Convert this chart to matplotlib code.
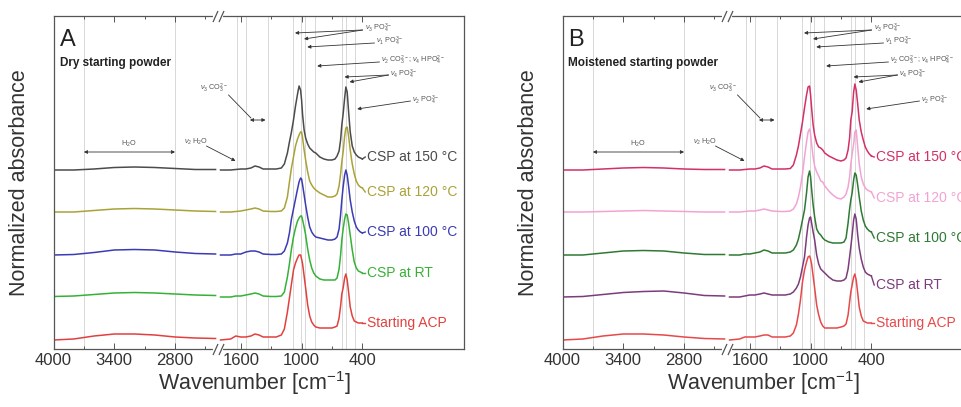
import matplotlib
matplotlib.use("Agg")
import matplotlib.pyplot as plt

plt.rcParams['font.family'] = ['Liberation Sans', 'DejaVu Sans']
plt.rcParams['mathtext.fontset'] = 'custom'
plt.rcParams['mathtext.rm'] = 'Liberation Sans'
plt.rcParams['mathtext.it'] = 'Liberation Sans:italic'
plt.rcParams['mathtext.bf'] = 'Liberation Sans:bold'

# ---------------- data ----------------
wn_high = [4000, 3800, 3600, 3400, 3200, 3000, 2800, 2600, 2400]
wn_low = [1800, 1700, 1650, 1600, 1550, 1500, 1460, 1420, 1380, 1300, 1250, 1200,
          1170, 1140, 1120, 1100, 1080, 1060, 1040, 1025, 1010, 1000, 990, 975,
          960, 940, 920, 900, 880, 860, 820, 780, 740, 700, 670, 650, 630, 615,
          603, 590, 575, 563, 550, 535, 520, 500, 480, 460, 440, 420, 400]

labels = ['CSP at 150 °C', 'CSP at 120 °C', 'CSP at 100 °C', 'CSP at RT', 'Starting ACP']
offsets = [179, 137, 94, 52, 9]

# Panel A (dry starting powder)
a150_high = [0, 0, 1, 2.5, 3, 2.5, 1.5, 0.5, 0.5]
a120_high = [0, 0, 1.5, 3, 3.5, 3, 2, 1, 0.5]
a100_high = [0, 0.5, 2.5, 5, 5.5, 5, 3, 1.5, 1]
art_high = [0.5, 1, 2.5, 4, 4.5, 4, 3, 2, 1.5]
aacp_high = [0, 1, 4, 6, 6, 5, 3, 2, 1.5]

a150_low = [0, 0, 0.5, 1, 1, 2, 4, 3, 1, 1, 1, 2, 6, 17, 28, 38, 50, 64, 76, 84, 80, 70, 55, 40, 32,
            26, 22, 20, 18, 17, 13, 11, 10, 10, 11, 14, 19, 30, 45, 56, 72, 83, 78, 57, 38, 24, 18,
            15, 13, 12, 11]
a120_low = [0, 0, 0.5, 1, 2, 3, 4, 3, 1, 0.5, 0.5, 1, 4, 15, 30, 44, 55, 66, 73, 77, 80, 80, 74, 62, 52,
            40, 31, 27, 24, 22, 19, 17, 15, 15, 16, 18, 26, 38, 50, 60, 76, 84, 85, 75, 62, 48, 38,
            31, 27, 25, 24]
a100_low = [0, 0, 1, 1, 3, 4, 4, 3, 1, 0.5, 0.5, 1, 4, 12, 22, 36, 46, 56, 66, 73, 77, 76, 70, 60, 50,
            38, 28, 23, 20, 18, 17, 16, 15, 15, 16, 18, 26, 40, 55, 68, 80, 85, 80, 68, 55, 43, 34,
            28, 25, 23, 22]
art_low = [0, 0, 1, 1, 2, 3, 4, 3, 1, 0.5, 0.5, 1, 5, 20, 33, 48, 60, 69, 76, 79, 81, 81, 77, 70, 62,
           48, 37, 29, 24, 21, 18, 17, 17, 17, 17, 19, 28, 42, 57, 68, 78, 83, 82, 73, 62, 47, 35,
           29, 26, 25, 24]
aacp_low = [0, 1, 4, 3, 3, 4, 6, 5, 3, 3, 3, 5, 11, 28, 42, 56, 70, 77, 82, 85, 85, 81, 76, 64, 52,
            35, 24, 18, 15, 13, 12, 12, 12, 12, 13, 14, 22, 34, 46, 52, 62, 66, 60, 47, 33, 24, 19,
            18, 17, 17, 17]

# Panel B (moistened starting powder)
b150_high = [0, 0, 1, 2, 2.5, 2, 1, 0.5, 0.5]
b120_high = [0, 0, 0.5, 1, 1.5, 1, 0.5, 0, 0]
b100_high = [0, 0, 2, 4, 4.5, 4, 2, 0.5, 0.5]
brt_high = [0, 0.5, 2.5, 4.5, 5.5, 6, 4, 1.5, 1]
bacp_high = [0, 1, 4, 6, 6, 5, 3, 1.5, 1]

b150_low = [0, 0, 0.5, 1, 1, 2, 4, 3, 1, 1, 1, 1.5, 5, 15, 24, 36, 48, 62, 75, 83, 84, 75, 62, 45, 35,
            27, 23, 22, 20, 17, 14, 12, 10, 9, 10, 12, 20, 32, 50, 58, 78, 86, 80, 66, 50, 38, 30,
            23, 19, 16, 14]
b120_low = [0, 0, 0.5, 1, 1, 2, 3, 2, 1, 0.5, 0.5, 1, 3, 8, 15, 25, 38, 55, 70, 80, 83, 78, 68, 55, 46,
            40, 36, 31, 30, 26, 21, 17, 14, 13, 15, 18, 25, 35, 48, 58, 68, 80, 82, 65, 48, 35, 28,
            24, 22, 21, 20]
b100_low = [0, 0, 1, 1, 2, 3, 5, 4, 2, 2, 2, 3, 5, 10, 16, 25, 35, 45, 62, 78, 84, 78, 66, 50, 38,
            26, 22, 20, 17, 15, 13, 12, 12, 12, 13, 17, 32, 46, 55, 62, 75, 82, 80, 70, 58, 44, 35,
            29, 26, 24, 23]
brt_low = [0, 0, 1, 2, 2, 3, 4, 3, 2, 2, 2, 3, 5, 9, 13, 20, 30, 40, 60, 72, 79, 80, 74, 65, 57,
           42, 33, 28, 26, 24, 20, 17, 16, 16, 17, 19, 28, 40, 50, 62, 77, 83, 78, 62, 49, 38, 30,
           25, 23, 22, 21]
bacp_low = [0, 1, 3, 3, 3, 4, 5, 5, 3, 3, 3, 4, 7, 15, 26, 40, 58, 70, 78, 83, 84, 81, 76, 64, 52,
            35, 25, 18, 14, 12, 12, 12, 12, 13, 14, 16, 25, 38, 48, 55, 63, 66, 60, 47, 33, 24, 19,
            18, 17, 17, 17]

colors_a = ['#4b4b4b', '#aaa239', '#3b3bb4', '#35b235', '#e2403f']
colors_b = ['#d42f69', '#f3a3d3', '#2f7a33', '#7c3c7c', '#e8484a']
label_y_a = [192, 157, 117, 76, 26]
label_y_b = [192, 151, 111, 64, 26]

vlines_high = [3700, 2800]
vlines_low = [1635, 1550, 1335, 1080, 1010, 965, 865, 600, 560, 470]

# ---------------- figure ----------------
W, H = 961, 407
fig = plt.figure(figsize=(W / 100, H / 100), dpi=100)

ann_color = '#555555'
arr_kw = dict(arrowstyle='-|>', lw=0.6, color='#333333', mutation_scale=5,
              shrinkA=0, shrinkB=0)


def panel(x0, highs, lows, colors, label_ys, letter, subtitle):
    bottom, height = 58, 333
    wl, wr = 164.5, 245.5
    axL = fig.add_axes([x0 / W, bottom / H, wl / W, height / H])
    axR = fig.add_axes([(x0 + wl) / W, bottom / H, wr / W, height / H])
    axL.set_xlim(4000, 2376)
    axR.set_xlim(1825, -598)
    for ax in (axL, axR):
        ax.set_ylim(0, 333)
        ax.set_yticks([])
        ax.patch.set_visible(False)
        for s in ax.spines.values():
            s.set_color('#555555')
            s.set_linewidth(0.9)
        ax.tick_params(axis='x', which='both', direction='in', top=True, bottom=True,
                       labelsize=12, pad=3, width=0.7, colors='#555555', labelcolor='#333333')
        ax.tick_params(axis='x', which='major', length=4)
        ax.tick_params(axis='x', which='minor', length=2.5)
    axL.spines['right'].set_visible(False)
    axR.spines['left'].set_visible(False)
    axL.set_xticks([4000, 3400, 2800])
    axL.set_xticks([3700, 3100, 2500], minor=True)
    axR.set_xticks([1600, 1000, 400])
    axR.set_xticks([1300, 700], minor=True)

    for v in vlines_high:
        axL.axvline(v, color='#d2d2d2', lw=0.6, zorder=0)
    for v in vlines_low:
        axR.axvline(v, color='#d2d2d2', lw=0.6, zorder=0)

    for hi, lo, off, c, lab, ly in zip(highs, lows, offsets, colors, labels, label_ys):
        axL.plot(wn_high, [off + v for v in hi], color=c, lw=1.1)
        axR.plot(wn_low, [off + v for v in lo], color=c, lw=1.1)
        axR.plot([wn_low[-1], 372], [off + lo[-1], ly], color=c, lw=1.0, clip_on=False)
        axR.text(359, ly, lab, color=c, fontsize=10, ha='left', va='center', clip_on=False)

    # break marks
    tr = axR.get_xaxis_transform()
    for yy in (0, 1):
        axR.plot([1852, 1798], [yy, yy], color='white', lw=3, transform=tr,
                 clip_on=False, zorder=6)
        axR.plot([1850, 1800], [yy, yy], color='#555555', lw=1.0, transform=tr,
                 clip_on=False, zorder=7, marker=[(-0.45, -1), (0.45, 1)], markersize=8,
                 linestyle='none', mew=0.9)

    # annotations
    fs = 5.2
    axR.text(379, 321, r'$\nu_3$ PO$_4^{3-}$', fontsize=fs, color=ann_color, va='center')
    for tip in [(1065, 316), (976, 310)]:
        axR.annotate('', xy=tip, xytext=(398, 319), arrowprops=arr_kw, annotation_clip=False)
    axR.text(270, 308, r'$\nu_1$ PO$_4^{3-}$', fontsize=fs, color=ann_color, va='center')
    axR.annotate('', xy=(944, 302), xytext=(280, 306), arrowprops=arr_kw, annotation_clip=False)
    axR.text(221, 289, r'$\nu_2$ CO$_3^{2-}$; $\nu_4$ HPO$_4^{2-}$', fontsize=fs,
             color=ann_color, va='center')
    axR.annotate('', xy=(846, 283), xytext=(231, 287), arrowprops=arr_kw, annotation_clip=False)
    axR.text(132, 275, r'$\nu_4$ PO$_4^{3-}$', fontsize=fs, color=ann_color, va='center')
    for tip in [(576, 272), (527, 267)]:
        axR.annotate('', xy=tip, xytext=(142, 274), arrowprops=arr_kw, annotation_clip=False)
    axR.text(-85, 249, r'$\nu_2$ PO$_4^{3-}$', fontsize=fs, color=ann_color, va='center')
    axR.annotate('', xy=(451, 240), xytext=(-75, 248), arrowprops=arr_kw, annotation_clip=False)
    axR.text(1869, 261, r'$\nu_3$ CO$_3^{2-}$', fontsize=fs, color=ann_color, va='center',
             ha='center')
    axR.plot([1721, 1500], [254, 231], color='#333333', lw=0.6)
    axR.annotate('', xy=(1510, 229), xytext=(1356, 229),
                 arrowprops=dict(arrowstyle='<|-|>', lw=0.6, color='#333333', mutation_scale=5,
                                 shrinkA=0, shrinkB=0), annotation_clip=False)
    axR.text(2037, 207, r'$\nu_2$ H$_2$O', fontsize=fs, color=ann_color, va='center',
             ha='center', clip_on=False)
    axR.annotate('', xy=(1652, 188), xytext=(1939, 203), arrowprops=arr_kw,
                 annotation_clip=False)
    axL.text(3260, 205, r'H$_2$O', fontsize=fs, color=ann_color, va='center', ha='center')
    axL.annotate('', xy=(3700, 197), xytext=(2800, 197),
                 arrowprops=dict(arrowstyle='<|-|>', lw=0.6, color='#333333', mutation_scale=5,
                                 shrinkA=0, shrinkB=0))

    # panel texts
    fig.text((x0 + 6) / W, (H - 40) / H, letter, fontsize=17, color='#222222',
             ha='left', va='center')
    fig.text((x0 + 6) / W, (H - 63) / H, subtitle, fontsize=8.5, fontweight='bold',
             color='#222222', ha='left', va='center')
    fig.text((x0 - 34) / W, (H - 183) / H, 'Normalized absorbance', fontsize=15.5,
             color='#333333', rotation=90, ha='center', va='center')
    fig.text((x0 + 201) / W, (H - 383) / H, r'Wavenumber [cm$^{\mathregular{-1}}$]',
             fontsize=15.5, color='#333333', ha='center', va='center')


panel(53.5, [a150_high, a120_high, a100_high, art_high, aacp_high],
      [a150_low, a120_low, a100_low, art_low, aacp_low], colors_a, label_y_a,
      'A', 'Dry starting powder')
panel(562.5, [b150_high, b120_high, b100_high, brt_high, bacp_high],
      [b150_low, b120_low, b100_low, brt_low, bacp_low], colors_b, label_y_b,
      'B', 'Moistened starting powder')

fig.savefig('out.png', dpi=100)
